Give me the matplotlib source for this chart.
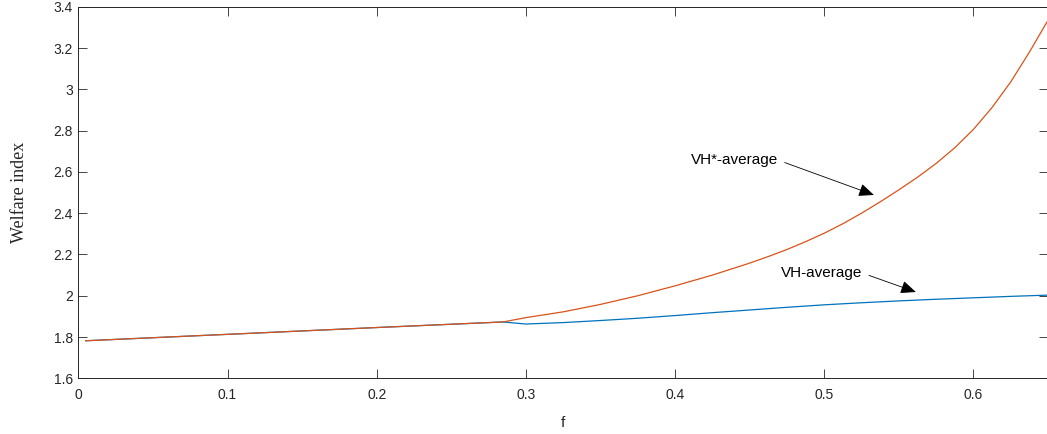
import matplotlib
matplotlib.use('Agg')
import matplotlib.pyplot as plt

# values
f_vh = [0.005, 0.1, 0.2, 0.2846, 0.3, 0.325, 0.35, 0.375, 0.4, 0.425, 0.45,
        0.475, 0.5, 0.525, 0.55, 0.575, 0.6, 0.625, 0.65]
vh_avg = [1.782, 1.813, 1.846, 1.873, 1.863, 1.870, 1.880, 1.891, 1.904, 1.918,
          1.931, 1.944, 1.956, 1.966, 1.975, 1.983, 1.990, 1.997, 2.003]

f_vhstar = [0.005, 0.1, 0.2, 0.2846, 0.3, 0.325, 0.35, 0.375, 0.4, 0.425, 0.45,
            0.4625, 0.475, 0.4875, 0.5, 0.5125, 0.525, 0.5375, 0.55, 0.5625,
            0.575, 0.5875, 0.6, 0.6125, 0.625, 0.6375, 0.65]
vhstar_avg = [1.782, 1.813, 1.846, 1.873, 1.894, 1.922, 1.958, 2.000, 2.048, 2.100,
              2.158, 2.190, 2.224, 2.262, 2.303, 2.349, 2.400, 2.455, 2.513, 2.574,
              2.641, 2.717, 2.806, 2.912, 3.036, 3.180, 3.335]

xticks = [0, 0.1, 0.2, 0.3, 0.4, 0.5, 0.6]
yticks = [1.6, 1.8, 2, 2.2, 2.4, 2.6, 2.8, 3, 3.2, 3.4]
ytick_labels = ['1.6', '1.8', '2', '2.2', '2.4', '2.6', '2.8', '3', '3.2', '3.4']

blue = '#0072BD'
orange = '#D95319'
axcol = '#262626'

plt.rcParams['font.family'] = ['Liberation Sans', 'DejaVu Sans']

fig = plt.figure(figsize=(10.47, 4.34), dpi=100)
ax = fig.add_axes([0.0748, 0.1283, 0.9262, 0.8562])

ax.plot(f_vh, vh_avg, color=blue, lw=0.9)
ax.plot(f_vhstar, vhstar_avg, color=orange, lw=0.9)

ax.set_xlim(0, 0.65)
ax.set_ylim(1.6, 3.4)
ax.set_xticks(xticks)
ax.set_xticklabels([('%g' % t) for t in xticks])
ax.set_yticks(yticks)
ax.set_yticklabels(ytick_labels)

ax.tick_params(direction='in', length=6.7, width=0.6, colors=axcol,
               labelsize=10, top=True, right=True)
ax.tick_params(axis='x', pad=7)
ax.tick_params(axis='y', pad=4)
for s in ax.spines.values():
    s.set_color(axcol)
    s.set_linewidth(0.7)

ax.set_xlabel('f', fontsize=11, color=axcol, labelpad=10)
ax.set_ylabel('Welfare index', fontsize=13, family='Liberation Serif',
              color=axcol, labelpad=18)

arrow = dict(arrowstyle='-|>,head_length=0.85,head_width=0.36', color='black',
             lw=0.6, relpos=(1, 0.5), shrinkA=3, shrinkB=0)
ax.annotate('VH*-average', xy=(0.5333, 2.488), xytext=(0.469, 2.657),
            ha='right', va='center', fontsize=11, arrowprops=arrow)
ax.annotate('VH-average', xy=(0.5614, 2.018), xytext=(0.5255, 2.110),
            ha='right', va='center', fontsize=11, arrowprops=arrow)

fig.savefig('out.png', dpi=100)
